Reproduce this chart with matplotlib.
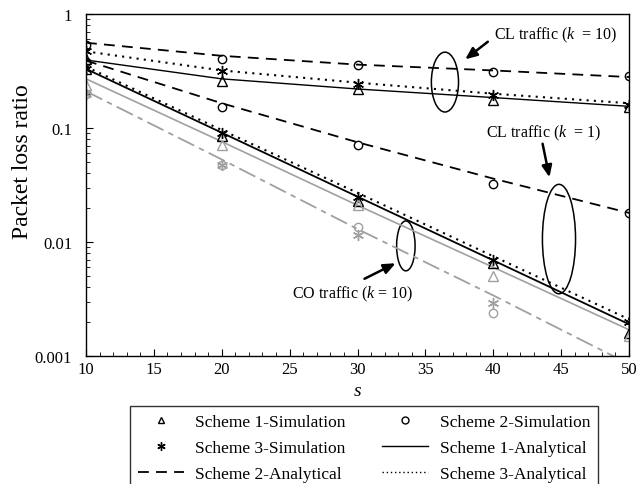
import matplotlib
matplotlib.use("Agg")
import matplotlib.pyplot as plt
from matplotlib.patches import Ellipse
from matplotlib.lines import Line2D

plt.rcParams['font.family'] = ['Liberation Serif', 'DejaVu Serif']
plt.rcParams['mathtext.fontset'] = 'custom'
plt.rcParams['mathtext.it'] = 'Liberation Serif:italic'
plt.rcParams['mathtext.rm'] = 'Liberation Serif'

s = [10, 20, 30, 40, 50]

# CL traffic (k = 10)
cl10_s1_an = [0.395, 0.27, 0.22, 0.185, 0.155]
cl10_s2_an = [0.56, 0.43, 0.36, 0.32, 0.28]
cl10_s3_an = [0.47, 0.32, 0.25, 0.2, 0.165]
cl10_s1_sim = [0.40, 0.26, 0.22, 0.175, 0.152]
cl10_s2_sim = [0.53, 0.40, 0.355, 0.31, 0.286]
cl10_s3_sim = [0.47, 0.315, 0.243, 0.195, 0.16]

# CL traffic (k = 1)
cl1_s2_an = [0.39, 0.165, 0.075, 0.036, 0.018]
cl1_s2_sim = [0.38, 0.153, 0.071, 0.032, 0.018]

# CO traffic (k = 10)
co_s1_an = [0.33, 0.091, 0.025, 0.0069, 0.0019]
co_s3_an = [0.345, 0.096, 0.027, 0.0075, 0.0021]
co_s1_sim = [0.33, 0.085, 0.023, 0.0066, 0.0016]
co_s3_sim = [0.33, 0.09, 0.025, 0.007, 0.002]
co_g_s1_an = [0.27, 0.076, 0.021, 0.006, 0.0017]
co_g_s2_an = [0.21, 0.053, 0.013, 0.0034, 0.00085]
co_g_s1_sim = [0.24, 0.071, 0.021, 0.005, 0.0015]
co_g_s2_sim = [0.2, 0.047, 0.0135, 0.0024, 0.0007]
co_g_s3_sim = [0.2, 0.047, 0.0115, 0.0029, 0.0007]

legend_labels = ['Scheme 1-Simulation', 'Scheme 3-Simulation', 'Scheme 2-Analytical',
                 'Scheme 2-Simulation', 'Scheme 1-Analytical', 'Scheme 3-Analytical']
xticks = [10, 15, 20, 25, 30, 35, 40, 45, 50]
yticks = [0.001, 0.01, 0.1, 1]
yticklabels = ['0.001', '0.01', '0.1', '1']

fig = plt.figure(figsize=(6.39, 4.85), dpi=100)
ax = fig.add_axes([0.1346, 0.2639, 0.8498, 0.7051])

dash = (0, (6, 4))
dot = (0, (1, 2.5))
gdash = (0, (10, 3, 3, 3))
ast = (6, 2, 0)
k = 'black'
g = '#a0a0a0'

# analytical lines
ax.plot(s, cl10_s1_an, color=k, lw=1.0, ls='-')
ax.plot(s, cl10_s2_an, color=k, lw=1.3, ls=dash)
ax.plot(s, cl10_s3_an, color=k, lw=1.5, ls=dot)
ax.plot(s, cl1_s2_an, color=k, lw=1.3, ls=dash)
ax.plot(s, co_s1_an, color=k, lw=1.3, ls='-')
ax.plot(s, co_s3_an, color=k, lw=1.5, ls=dot)
ax.plot(s, co_g_s1_an, color=g, lw=1.2, ls='-')
ax.plot(s, co_g_s2_an, color=g, lw=1.3, ls=gdash)

# simulation markers
mk = dict(ls='none', fillstyle='none', mew=1.0)
ax.plot(s, cl10_s1_sim, marker='^', ms=7, color=k, **mk)
ax.plot(s, cl10_s2_sim, marker='o', ms=6, color=k, **mk)
ax.plot(s, cl10_s3_sim, marker=ast, ms=8, color=k, **mk)
ax.plot(s, cl1_s2_sim, marker='o', ms=6, color=k, **mk)
ax.plot(s, co_s1_sim, marker='^', ms=7, color=k, **mk)
ax.plot(s, co_s3_sim, marker=ast, ms=8, color=k, **mk)
ax.plot(s, co_g_s1_sim, marker='^', ms=7, color=g, **mk)
ax.plot(s, co_g_s2_sim, marker='o', ms=6, color=g, **mk)
ax.plot(s, co_g_s3_sim, marker=ast, ms=8, color=g, **mk)

ax.set_yscale('log')
ax.set_xlim(10, 50)
ax.set_ylim(0.001, 1)
ax.set_xticks(xticks)
ax.set_xticks(range(10, 51), minor=True)
ax.set_yticks(yticks)
ax.set_yticklabels(yticklabels)
ax.tick_params(which='both', direction='in', top=False, right=False, labelsize=12)
ax.tick_params(axis='y', which='major', pad=10)
ax.tick_params(which='major', length=5)
ax.tick_params(which='minor', length=3)
for lab in ax.get_yticklabels():
    lab.set_va('center_baseline')
for sp in ax.spines.values():
    sp.set_linewidth(1.0)
ax.set_ylabel('Packet loss ratio', fontsize=17)
ax.yaxis.set_label_coords(-0.097, 0.57)
ax.set_xlabel('$s$', fontsize=14, labelpad=4)

# ellipses (axes fraction)
for (cx, cy, w, h) in [(0.661, 0.801, 0.05, 0.175), (0.871, 0.342, 0.061, 0.32), (0.589, 0.322, 0.034, 0.146)]:
    ax.add_patch(Ellipse((cx, cy), w, h, transform=ax.transAxes, fill=False, ec='black', lw=1.1))

ap = dict(arrowstyle='-|>,head_length=0.7,head_width=0.3', color='black', lw=1.8)
def px(x, y):
    return ((x - 86) / 543.0, 1 - (y - 15) / 342.0)
ax.annotate('', xy=px(463, 62), xytext=px(490, 41), xycoords='axes fraction', arrowprops=ap)
ax.text(*px(494, 35), 'CL traffic ($k$  = 10)', transform=ax.transAxes, fontsize=11.5, va='center', ha='left')
ax.annotate('', xy=px(550, 181), xytext=px(542, 142), xycoords='axes fraction', arrowprops=ap)
ax.text(*px(486, 133), 'CL traffic ($k$  = 1)', transform=ax.transAxes, fontsize=11.5, va='center', ha='left')
ax.annotate('', xy=px(398, 263), xytext=px(362, 281), xycoords='axes fraction', arrowprops=ap)
ax.text(*px(292, 294), 'CO traffic ($k$ = 10)', transform=ax.transAxes, fontsize=11.5, va='center', ha='left')

# legend proxies
h = [
    Line2D([], [], ls='none', marker='^', ms=5, fillstyle='none', color=k),
    Line2D([], [], ls='none', marker=ast, ms=6, color=k),
    Line2D([], [], color=k, lw=1.3, ls=dash),
    Line2D([], [], ls='none', marker='o', ms=5, fillstyle='none', color=k),
    Line2D([], [], color=k, lw=1.0, ls='-'),
    Line2D([], [], color=k, lw=1.0, ls=(0, (1, 2))),
]
x0, x1, ytop = 130 / 639, 598 / 639, 1 - 407 / 485
leg = fig.legend(h, legend_labels, ncol=2, loc='upper left', mode='expand',
                 bbox_to_anchor=(x0, ytop - 0.2, x1 - x0, 0.2),
                 borderaxespad=0, fontsize=12.5, frameon=True, fancybox=False, edgecolor='black',
                 handlelength=2.65, columnspacing=1.6, handletextpad=0.65, labelspacing=0.56,
                 borderpad=0.45)
leg.get_frame().set_linewidth(1.0)

fig.savefig('out.png', dpi=100)
